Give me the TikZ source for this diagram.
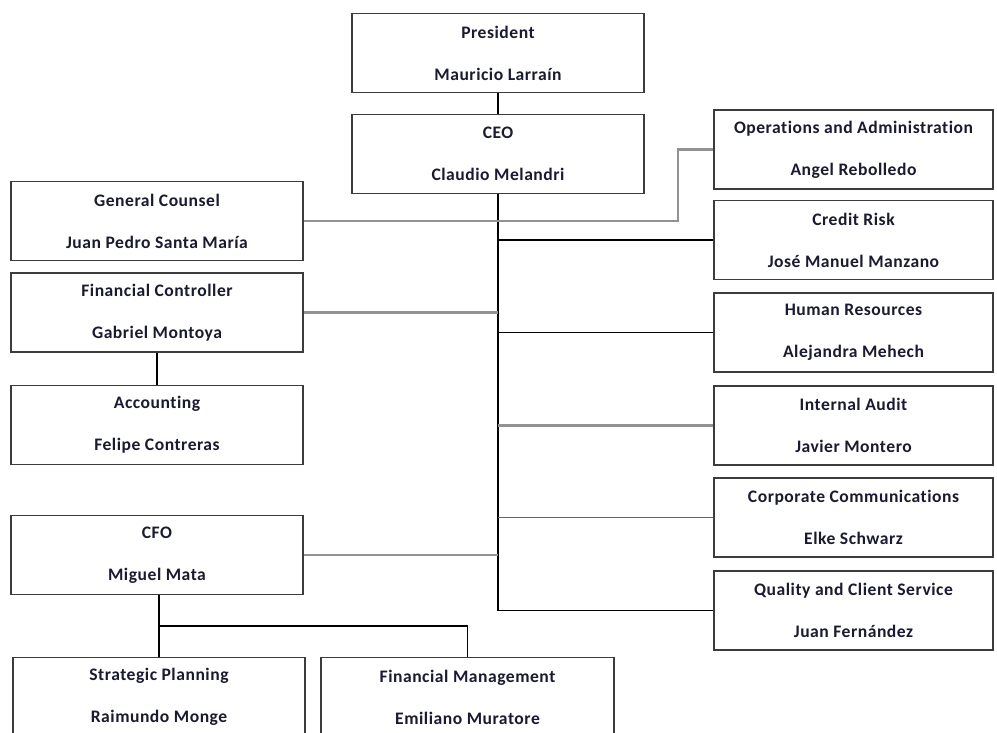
\documentclass[tikz,border=0pt]{standalone}
\usepackage{fontspec}
\setmainfont{Carlito}[LetterSpace=3, Ligatures=NoCommon]
\usetikzlibrary{positioning, calc}
\definecolor{frameGrey}{HTML}{3C3C3C}
\definecolor{lineSoft}{HTML}{929292}
\definecolor{lineMid}{HTML}{666666}
\definecolor{inkNavy}{HTML}{1A1A30}
\tikzset{
  unit/.style={draw=frameGrey, line width=0.8pt, fill=white, align=center,
               minimum width=#1, minimum height=1.58cm, inner sep=0pt,
               text=inkNavy, font=\fontsize{10}{12}\selectfont\bfseries},
  unit/.default=5.84cm,
  link/.style={draw=black, line width=0.6pt},
  softlink/.style={draw=lineSoft, line width=1.3pt},
  midlink/.style={draw=lineMid, line width=1pt},
}
\newcommand{\post}[2]{#1\\[11.8pt]#2}

\begin{document}
\begin{tikzpicture}[x=0.02cm, y=-0.02cm]
\path[use as bounding box, clip] (0,0) rectangle (997,733);
% top of the tree
\node[unit] (president) at (498,53) {\post{President}{Mauricio Larraín}};
\node[unit] (ceo) at (498,154) {\post{CEO}{Claudio Melandri}};
% right column
\node[unit=5.58cm] (ops) at (853.5,149.5) {\post{Operations and Administration}{Angel Rebolledo}};
\node[unit=5.58cm] (credit) at (853.5,240) {\post{Credit Risk}{José Manuel Manzano}};
\node[unit=5.58cm] (hr) at (853.5,332.5) {\post{Human Resources}{Alejandra Mehech}};
\node[unit=5.58cm] (audit) at (853.5,425.5) {\post{Internal Audit}{Javier Montero}};
\node[unit=5.58cm] (comms) at (853.5,517.5) {\post{Corporate Communications}{Elke Schwarz}};
\node[unit=5.58cm] (quality) at (853.5,610.5) {\post{Quality and Client Service}{Juan Fernández}};
% left column
\node[unit] (counsel) at (157,221) {\post{General Counsel}{Juan Pedro Santa María}};
\node[unit] (controller) at (157,312.5) {\post{Financial Controller}{Gabriel Montoya}};
\node[unit] (accounting) at (157,425) {\post{Accounting}{Felipe Contreras}};
\node[unit] (cfo) at (157,555) {\post{CFO}{Miguel Mata}};
\node[unit] (planning) at (159,697) {\post{Strategic Planning}{Raimundo Monge}};
\node[unit=5.86cm] (finmgmt) at (467.5,697) {\post{Financial Management}{Emiliano Muratore}};
% connectors
\draw[link] (president) -- (ceo);
\draw[link] (ceo.south) |- (quality.west);
\draw[link] (credit.west) -- (credit.west -| ceo.south);
\draw[link] (hr.west) -- (hr.west -| ceo.south);
\draw[softlink] (audit.west) -- (audit.west -| ceo.south);
\draw[midlink] (comms.west) -- (comms.west -| ceo.south);
\draw[softlink] (counsel.east) -| ([xshift=-0.7cm]ops.west) -- (ops.west);
\draw[softlink] (controller.east) -- (controller.east -| ceo.south);
\draw[softlink] (cfo.east) -- (cfo.east -| ceo.south);
\draw[link] (controller) -- (accounting);
\coordinate (split) at (159,626);
\draw[link] (planning.north) -- (planning.north |- cfo.south);
\draw[link] (split) -| (finmgmt.north);
\end{tikzpicture}
\end{document}
